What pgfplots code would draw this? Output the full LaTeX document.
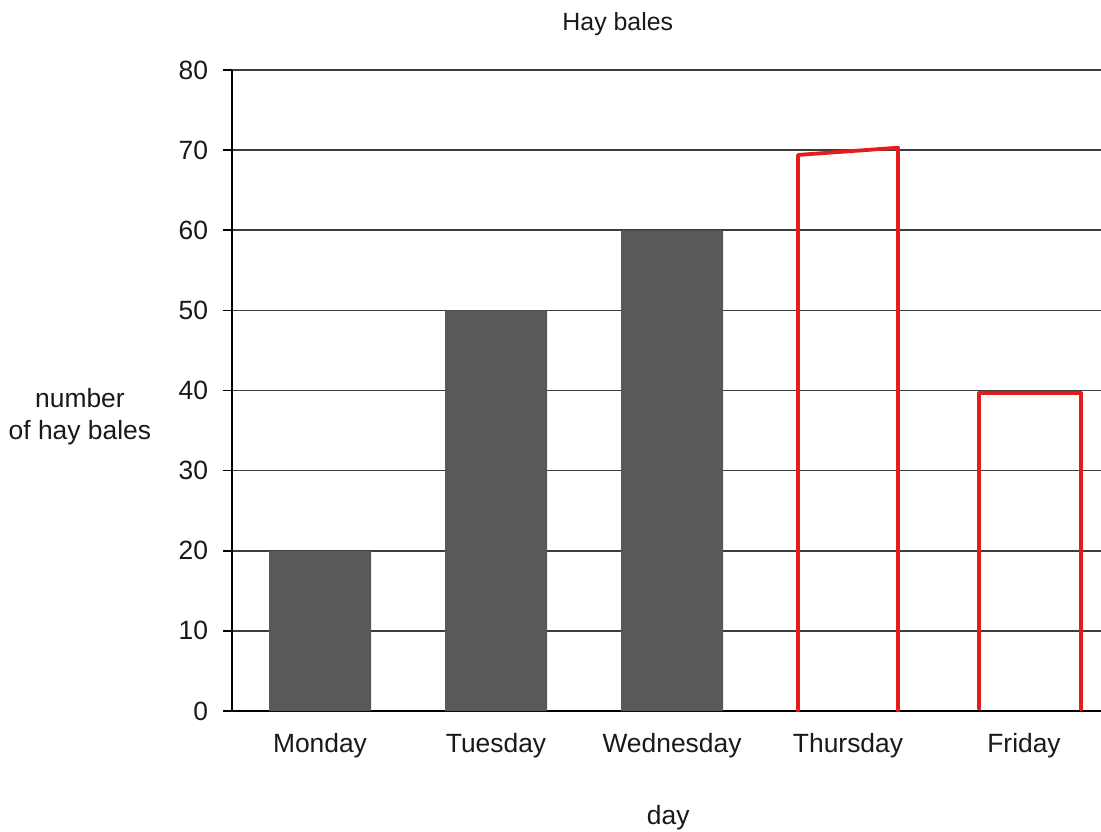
\documentclass[border=0pt]{standalone}
\usepackage{pgfplots}
\pgfplotsset{compat=1.18}
\usepackage{fontspec}
\setmainfont{Liberation Sans}
\definecolor{barfill}{RGB}{89,89,89}
\definecolor{handred}{RGB}{228,28,28}
\definecolor{gridc}{RGB}{60,60,60}
\begin{document}
\fontsize{26.5}{32}\selectfont
\begin{tikzpicture}
\useasboundingbox (0,0) rectangle (1101bp,832bp);
\begin{axis}[
  at={(232bp,121bp)}, anchor=south west,
  scale only axis, width=869bp, height=641bp,
  xmin=-0.5, xmax=4.4375, ymin=0, ymax=80,
  axis lines*=left,
  axis line style={black, line width=1.6bp},
  xtick={0,1,2,3,4},
  xticklabels={Monday,Tuesday,Wednesday,Thursday,Friday},
  x tick style={draw=none},
  ytick={0,10,...,80},
  y tick style={black, line width=1.6bp},
  tick align=outside, major tick length=9bp,
  ymajorgrids, grid style={gridc, line width=1.6bp},
  /pgf/number format/assume math mode=true,
  tick label style={font=\fontsize{26.5}{32}\selectfont, text=black!90},
  xticklabel style={yshift=-4bp},
  yticklabel style={xshift=-6bp},
  title={Hay bales},
  title style={at={(axis description cs:0.444,1.0625)}, anchor=center, font=\fontsize{25}{30}\selectfont, text=black!90},
  xlabel={day},
  xlabel style={at={(axis description cs:0.502,-0.167)}, anchor=center, font=\fontsize{26.5}{32}\selectfont, text=black!90},
  ylabel={number\\of hay bales},
  ylabel style={at={(axis description cs:-0.175,0.459)}, anchor=center, rotate=-90, align=center, font=\fontsize{26.5}{32}\selectfont, text=black!90},
]
\addplot[ybar, bar width=102bp, fill=barfill, draw=none] coordinates {(0,20) (1,50) (2,60)};
\addplot[handred, line width=3.8bp, line join=round, line cap=round] coordinates {(2.716,0) (2.716,69.4) (3.284,70.3) (3.284,0)};
\addplot[handred, line width=3.8bp, line join=round, line cap=round] coordinates {(3.744,0.3) (3.744,39.7) (4.324,39.7) (4.324,0.2)};
\end{axis}
\end{tikzpicture}
\end{document}
